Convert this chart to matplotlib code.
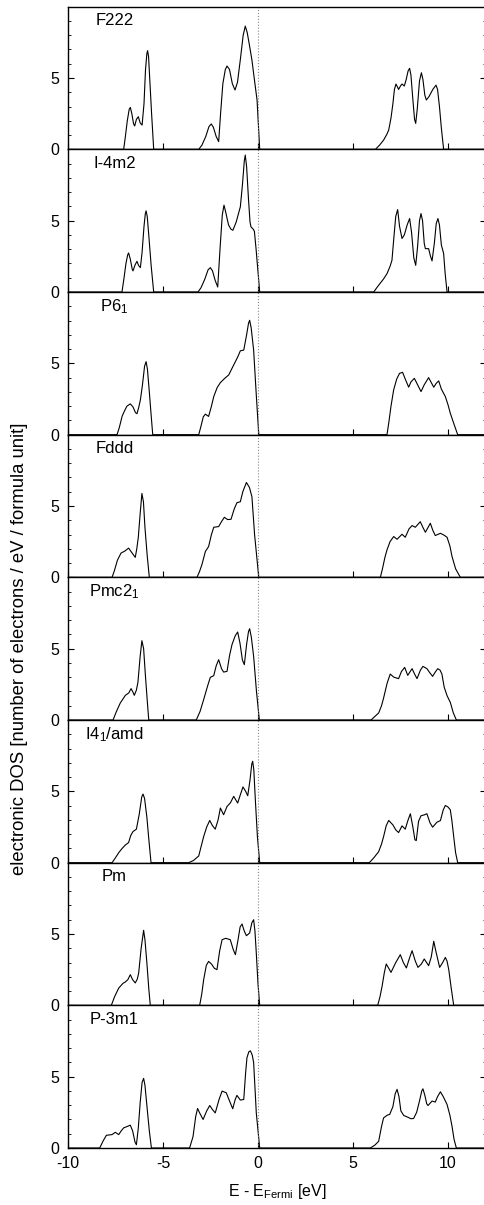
import matplotlib
matplotlib.use('Agg')
import matplotlib.pyplot as plt
from matplotlib.ticker import MultipleLocator

plt.rcParams['font.family'] = ['Liberation Sans', 'DejaVu Sans']
plt.rcParams['mathtext.default'] = 'regular'
plt.rcParams['axes.unicode_minus'] = False

names = ['F222', 'I-4m2', 'P6$_1$', 'Fddd', 'Pmc2$_1$', 'I4$_1$/amd', 'Pm', 'P-3m1']

# (E, DOS) points, one list per structure
f222 = [(-10, 0),
        (-7.07, 0), (-6.98, 0.9), (-6.88, 2.0), (-6.78, 2.8), (-6.72, 2.94), (-6.64, 2.5), (-6.55, 1.8),
        (-6.49, 1.64), (-6.4, 2.1), (-6.30, 2.29), (-6.2, 1.85), (-6.1, 1.7), (-6.0, 3.2), (-5.92, 5.6),
        (-5.85, 6.7), (-5.81, 6.92), (-5.76, 6.5), (-5.7, 5.0), (-5.6, 2.5), (-5.49, 0),
        (-3.12, 0), (-2.95, 0.3), (-2.75, 0.9), (-2.58, 1.6), (-2.46, 1.78), (-2.35, 1.55), (-2.2, 0.9),
        (-2.07, 0.54), (-1.97, 2.5), (-1.85, 4.6), (-1.72, 5.6), (-1.63, 5.84), (-1.5, 5.6), (-1.35, 4.6),
        (-1.21, 4.16), (-1.08, 4.7), (-0.92, 6.4), (-0.78, 8.0), (-0.67, 8.64), (-0.57, 8.2), (-0.45, 7.3),
        (-0.32, 6.26), (-0.2, 5.0), (-0.05, 3.46), (0.09, 0),
        (6.18, 0), (6.4, 0.3), (6.61, 0.65), (6.78, 1.05), (6.88, 1.36), (7.0, 2.2), (7.1, 3.2), (7.18, 4.2),
        (7.26, 4.58), (7.33, 4.4), (7.40, 4.2), (7.5, 4.45), (7.58, 4.58), (7.70, 4.44), (7.8, 4.9),
        (7.9, 5.5), (7.98, 5.68), (8.05, 5.2), (8.15, 3.5), (8.24, 2.1), (8.30, 1.82), (8.38, 2.8),
        (8.5, 4.8), (8.60, 5.37), (8.68, 4.9), (8.78, 3.8), (8.86, 3.46), (9.0, 3.7), (9.2, 4.2),
        (9.37, 4.5), (9.45, 4.2), (9.55, 3.0), (9.65, 1.5), (9.77, 0),
        (12, 0)]

i4m2 = [(-10, 0),
        (-7.16, 0), (-7.06, 0.9), (-6.95, 2.0), (-6.86, 2.6), (-6.81, 2.74), (-6.72, 2.3), (-6.62, 1.6),
        (-6.58, 1.48), (-6.47, 1.9), (-6.37, 2.15), (-6.28, 1.85), (-6.19, 1.71), (-6.1, 2.8), (-6.0, 4.6),
        (-5.93, 5.5), (-5.89, 5.69), (-5.83, 5.3), (-5.75, 4.0), (-5.62, 1.8), (-5.49, 0),
        (-3.16, 0), (-3.0, 0.3), (-2.8, 0.9), (-2.63, 1.55), (-2.51, 1.71), (-2.4, 1.5), (-2.25, 0.8),
        (-2.12, 0.35), (-2.0, 3.0), (-1.88, 5.4), (-1.79, 6.09), (-1.7, 5.6), (-1.55, 4.7), (-1.42, 4.4),
        (-1.32, 4.33), (-1.15, 4.9), (-0.93, 5.97), (-0.82, 7.5), (-0.72, 9.2), (-0.67, 9.6), (-0.6, 8.8),
        (-0.5, 6.5), (-0.42, 4.9), (-0.37, 4.57), (-0.25, 4.4), (-0.19, 4.26), (-0.1, 3.0), (-0.05, 2.2),
        (0.09, 0),
        (6.09, 0), (6.25, 0.3), (6.44, 0.63), (6.6, 0.9), (6.79, 1.29), (6.95, 1.8), (7.05, 2.22),
        (7.15, 3.8), (7.25, 5.3), (7.35, 5.78), (7.45, 4.6), (7.58, 3.75), (7.7, 4.0), (7.85, 4.7),
        (7.98, 5.15), (8.08, 4.2), (8.2, 2.4), (8.30, 1.87), (8.4, 3.2), (8.5, 5.0), (8.58, 5.5),
        (8.66, 5.0), (8.75, 3.4), (8.81, 3.04), (8.98, 3.04), (9.08, 2.5), (9.16, 2.18), (9.28, 3.4),
        (9.38, 4.8), (9.47, 5.15), (9.55, 4.7), (9.65, 3.3), (9.77, 2.7), (9.85, 1.3), (9.95, 0),
        (12, 0)]

p61 = [(-10, 0),
       (-7.42, 0), (-7.3, 0.5), (-7.15, 1.3), (-7.04, 1.63), (-6.9, 2.0), (-6.72, 2.16), (-6.58, 1.95),
       (-6.45, 1.55), (-6.37, 1.47), (-6.28, 1.9), (-6.19, 2.44), (-6.08, 3.5), (-5.97, 4.8), (-5.89, 5.12),
       (-5.82, 4.6), (-5.72, 3.0), (-5.62, 1.3), (-5.54, 0),
       (-3.12, 0), (-3.0, 0.6), (-2.88, 1.25), (-2.77, 1.44), (-2.6, 1.28), (-2.45, 2.0), (-2.33, 2.67),
       (-2.15, 3.3), (-1.98, 3.65), (-1.75, 3.95), (-1.54, 4.19), (-1.35, 4.7), (-1.19, 5.12), (-1.05, 5.5),
       (-0.93, 5.88), (-0.75, 5.93), (-0.6, 7.0), (-0.5, 7.8), (-0.44, 8.02), (-0.36, 7.5), (-0.23, 5.93),
       (-0.1, 3.0), (0.04, 0),
       (6.79, 0), (6.9, 1.0), (7.0, 2.0), (7.14, 3.14), (7.3, 3.9), (7.45, 4.3), (7.61, 4.37), (7.75, 3.9),
       (7.93, 3.33), (8.05, 3.7), (8.23, 3.95), (8.4, 3.5), (8.58, 3.02), (8.75, 3.5), (8.98, 4.0),
       (9.1, 3.7), (9.25, 3.33), (9.38, 3.6), (9.51, 3.77), (9.65, 3.2), (9.86, 2.67), (10.0, 2.1),
       (10.12, 1.51), (10.3, 0.8), (10.51, 0),
       (12, 0)]

fddd = [(-10, 0),
        (-7.68, 0), (-7.55, 0.5), (-7.4, 1.2), (-7.21, 1.7), (-7.0, 1.85), (-6.81, 2.05), (-6.65, 1.75),
        (-6.46, 1.4), (-6.38, 2.0), (-6.3, 2.8), (-6.2, 4.5), (-6.11, 5.88), (-6.03, 5.3), (-5.95, 3.5),
        (-5.83, 1.5), (-5.72, 0),
        (-3.21, 0), (-3.08, 0.4), (-2.95, 0.9), (-2.77, 1.81), (-2.6, 2.16), (-2.45, 3.0), (-2.33, 3.51),
        (-2.07, 3.56), (-1.9, 3.95), (-1.77, 4.21), (-1.6, 4.05), (-1.42, 4.07), (-1.25, 4.8), (-1.11, 5.23),
        (-0.93, 5.3), (-0.8, 6.0), (-0.61, 6.65), (-0.45, 6.3), (-0.32, 5.65), (-0.18, 3.0), (0.04, 0),
        (6.44, 0), (6.55, 0.6), (6.68, 1.4), (6.79, 1.93), (6.95, 2.5), (7.14, 2.86), (7.32, 2.67),
        (7.58, 3.02), (7.75, 2.81), (7.95, 3.4), (8.11, 3.63), (8.28, 3.51), (8.54, 3.9), (8.68, 3.5),
        (8.81, 3.16), (9.07, 3.79), (9.2, 3.3), (9.33, 2.93), (9.60, 3.09), (9.8, 2.95), (9.95, 2.81),
        (10.1, 2.2), (10.21, 1.47), (10.4, 0.6), (10.65, 0),
        (12, 0)]

pmc21 = [(-10, 0),
         (-7.63, 0), (-7.45, 0.6), (-7.25, 1.19), (-6.98, 1.73), (-6.8, 1.9), (-6.68, 2.2), (-6.58, 1.95),
         (-6.51, 1.73), (-6.4, 2.1), (-6.32, 2.64), (-6.2, 4.5), (-6.11, 5.56), (-6.02, 5.0), (-5.93, 3.2),
         (-5.82, 1.2), (-5.75, 0),
         (-3.25, 0), (-3.05, 0.6), (-2.86, 1.43), (-2.65, 2.4), (-2.51, 2.99), (-2.33, 3.11), (-2.2, 3.8),
         (-2.07, 4.23), (-1.92, 3.6), (-1.81, 3.36), (-1.63, 3.41), (-1.5, 4.5), (-1.37, 5.28), (-1.2, 5.9),
         (-1.07, 6.17), (-0.95, 5.4), (-0.82, 4.2), (-0.72, 3.88), (-0.6, 5.3), (-0.5, 6.2), (-0.44, 6.4),
         (-0.35, 5.8), (-0.23, 4.46), (-0.08, 2.0), (0.07, 0),
         (5.95, 0), (6.15, 0.25), (6.35, 0.49), (6.5, 1.0), (6.61, 1.54), (6.8, 2.6), (6.96, 3.22),
         (7.15, 3.0), (7.4, 2.9), (7.55, 3.4), (7.72, 3.69), (7.88, 3.13), (8.11, 3.6), (8.25, 3.2),
         (8.37, 2.9), (8.55, 3.5), (8.68, 3.76), (8.89, 3.6), (9.05, 3.3), (9.19, 3.06), (9.35, 3.4),
         (9.46, 3.6), (9.58, 3.5), (9.68, 3.22), (9.8, 2.3), (9.95, 1.71), (10.12, 1.24), (10.28, 0.5),
         (10.44, 0),
         (12, 0)]

i41amd = [(-10, 0),
          (-7.68, 0), (-7.5, 0.35), (-7.33, 0.7), (-7.15, 1.0), (-6.98, 1.24), (-6.81, 1.41), (-6.7, 1.9),
          (-6.58, 2.18), (-6.4, 2.35), (-6.25, 3.4), (-6.12, 4.6), (-6.05, 4.81), (-5.97, 4.5), (-5.85, 3.2),
          (-5.73, 1.4), (-5.63, 0),
          (-3.65, 0), (-3.4, 0.15), (-3.12, 0.47), (-3.0, 1.1), (-2.86, 1.83), (-2.7, 2.5), (-2.54, 2.96),
          (-2.4, 2.6), (-2.25, 2.35), (-2.1, 3.0), (-1.98, 3.83), (-1.81, 3.36), (-1.63, 3.94), (-1.45, 4.2),
          (-1.28, 4.65), (-1.07, 4.18), (-0.92, 4.8), (-0.79, 5.31), (-0.65, 5.0), (-0.54, 4.69),
          (-0.42, 5.8), (-0.33, 6.9), (-0.28, 7.11), (-0.22, 6.5), (-0.14, 4.41), (-0.03, 1.8), (0.09, 0),
          (5.86, 0), (6.1, 0.35), (6.35, 0.77), (6.5, 1.3), (6.61, 1.83), (6.75, 2.6), (6.88, 2.96),
          (7.1, 2.65), (7.25, 2.3), (7.4, 2.11), (7.58, 2.58), (7.75, 2.35), (7.9, 3.0), (8.02, 3.43),
          (8.15, 2.5), (8.26, 1.6), (8.33, 1.55), (8.45, 2.9), (8.58, 3.29), (8.75, 3.35), (8.89, 3.43),
          (9.05, 2.8), (9.19, 2.49), (9.42, 2.84), (9.6, 2.95), (9.75, 3.7), (9.86, 4.01), (10.0, 3.9),
          (10.12, 3.71), (10.2, 3.0), (10.30, 1.83), (10.4, 0.7), (10.51, 0),
          (12, 0)]

pm = [(-10, 0),
      (-7.72, 0), (-7.55, 0.6), (-7.33, 1.21), (-7.1, 1.55), (-6.98, 1.64), (-6.85, 1.8), (-6.72, 2.15),
      (-6.6, 1.8), (-6.46, 1.57), (-6.35, 1.85), (-6.28, 2.27), (-6.15, 4.0), (-6.02, 5.26), (-5.95, 4.6),
      (-5.85, 3.0), (-5.75, 1.2), (-5.67, 0),
      (-3.07, 0), (-2.96, 0.8), (-2.86, 1.8), (-2.72, 2.8), (-2.6, 3.08), (-2.45, 2.9), (-2.3, 2.6),
      (-2.16, 2.5), (-2.02, 3.8), (-1.89, 4.6), (-1.7, 4.7), (-1.46, 4.6), (-1.3, 3.9), (-1.19, 3.55),
      (-1.05, 4.6), (-0.94, 5.5), (-0.84, 5.7), (-0.72, 5.2), (-0.61, 4.88), (-0.44, 5.07), (-0.32, 5.8),
      (-0.23, 6.0), (-0.16, 5.2), (-0.09, 3.67), (0.0, 1.5), (0.09, 0),
      (6.3, 0), (6.42, 0.6), (6.53, 1.33), (6.65, 2.3), (6.75, 2.9), (6.88, 2.6), (7.0, 2.31), (7.25, 3.0),
      (7.49, 3.55), (7.65, 3.0), (7.81, 2.62), (7.97, 3.3), (8.11, 3.83), (8.28, 3.1), (8.42, 2.66),
      (8.6, 2.9), (8.75, 3.25), (8.98, 2.78), (9.12, 3.4), (9.25, 4.49), (9.36, 3.8), (9.56, 2.66),
      (9.72, 3.0), (9.86, 3.36), (9.95, 3.1), (10.04, 2.5), (10.17, 1.2), (10.3, 0),
      (12, 0)]

p3m1 = [(-10, 0),
        (-8.33, 0), (-8.15, 0.5), (-7.98, 0.89), (-7.68, 0.94), (-7.51, 1.1), (-7.33, 0.94), (-7.2, 1.2),
        (-7.07, 1.41), (-6.9, 1.5), (-6.72, 1.6), (-6.6, 1.2), (-6.47, 0.4), (-6.40, 0.23), (-6.3, 1.4),
        (-6.2, 3.2), (-6.1, 4.6), (-6.02, 4.88), (-5.95, 4.4), (-5.85, 3.0), (-5.72, 1.2), (-5.61, 0),
        (-3.6, 0), (-3.42, 0.8), (-3.28, 2.2), (-3.18, 2.77), (-3.05, 2.4), (-2.89, 2.0), (-2.7, 2.6),
        (-2.54, 2.98), (-2.4, 2.7), (-2.25, 2.46), (-2.05, 3.4), (-1.89, 3.99), (-1.67, 3.87), (-1.5, 3.3),
        (-1.33, 2.75), (-1.2, 3.4), (-1.11, 3.69), (-0.93, 3.36), (-0.75, 3.4), (-0.65, 5.3), (-0.58, 6.34),
        (-0.48, 6.75), (-0.4, 6.81), (-0.3, 6.5), (-0.23, 5.99), (-0.15, 4.0), (-0.09, 2.46), (0.09, 0),
        (5.91, 0), (6.15, 0.2), (6.35, 0.47), (6.5, 1.5), (6.61, 2.11), (6.8, 2.3), (6.93, 2.35), (7.1, 2.9),
        (7.22, 3.8), (7.32, 4.11), (7.42, 3.6), (7.52, 2.6), (7.67, 2.28), (7.9, 2.15), (8.05, 2.05),
        (8.19, 2.07), (8.35, 2.5), (8.5, 3.3), (8.62, 4.0), (8.68, 4.15), (8.78, 3.7), (8.88, 3.1),
        (8.95, 2.98), (9.16, 3.29), (9.33, 3.22), (9.45, 3.6), (9.6, 3.94), (9.75, 3.6), (9.95, 3.05),
        (10.1, 2.3), (10.21, 1.53), (10.32, 0.6), (10.44, 0),
        (12, 0)]

curves = [f222, i4m2, p61, fddd, pmc21, i41amd, pm, p3m1]

fig, axs = plt.subplots(8, 1, sharex=True, figsize=(4.84, 12.05), dpi=100)
fig.subplots_adjust(left=68 / 484, right=486 / 484, top=1 - 6.7 / 1205,
                    bottom=1 - 1148 / 1205, hspace=0)

for ax, name, pts in zip(axs, names, curves):
    x = [p[0] for p in pts]
    y = [p[1] for p in pts]
    ax.plot(x, y, color='black', lw=0.8)
    ax.axvline(0, color='#888888', lw=0.8, ls=':')
    ax.set_xlim(-10, 12)
    ax.set_ylim(0, 10)
    ax.set_yticks([0, 5])
    ax.yaxis.set_minor_locator(MultipleLocator(1))
    ax.set_xticks([-10, -5, 0, 5, 10])
    ax.tick_params(axis='y', which='both', direction='in', left=True, right=True,
                   labelsize=11.5, pad=6)
    ax.tick_params(axis='y', which='major', length=4, width=0.8)
    ax.tick_params(axis='y', which='minor', length=2, width=0.6)
    ax.tick_params(axis='x', which='both', direction='in', top=False, length=4,
                   width=0.8, labelsize=11.5, pad=6)
    ax.spines['right'].set_visible(False)
    for s in ('left', 'top', 'bottom'):
        ax.spines[s].set_linewidth(1.0)
    ax.text(-7.56, 9.0, name, ha='center', va='center', fontsize=12)

axs[-1].set_xlabel('E - E$_{Fermi}$ [eV]', fontsize=11.5, labelpad=8)
fig.text(20 / 484, 1 - 649 / 1205, 'electronic DOS [number of electrons / eV / formula unit]',
         rotation=90, ha='center', va='center', fontsize=13.3)

fig.savefig('out.png', dpi=100)
